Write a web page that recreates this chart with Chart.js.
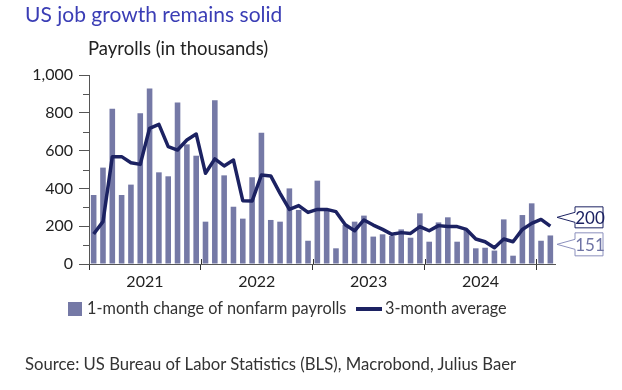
<!DOCTYPE html>
<html><head><meta charset="utf-8">
<script src="https://cdn.jsdelivr.net/npm/chart.js@4"></script>
<style>
html,body{margin:0;padding:0;background:#fff;}
#wrap{position:relative;width:622px;height:390px;overflow:hidden;font-family:Lato,sans-serif;}
canvas{position:absolute;left:0;top:0;}
.t{position:absolute;white-space:nowrap;line-height:1;}
</style></head><body>
<div id="wrap">
<canvas id="c" width="622" height="390"></canvas>
<div class="t" style="left:25px;top:3px;font-size:21px;color:#3a3db5;">US job growth remains solid</div>
<div class="t" style="left:88px;top:39px;font-size:18.5px;color:#222;">Payrolls (in thousands)</div>
<div style="position:absolute;left:68px;top:302px;width:14px;height:14px;background:#7579a6;"></div>
<div class="t" style="left:87px;top:300px;font-size:16.3px;color:#333;">1-month change of nonfarm payrolls</div>
<div style="position:absolute;left:356px;top:307px;width:26px;height:4px;background:#1c2262;"></div>
<div class="t" style="left:385px;top:300px;font-size:16.3px;color:#333;">3-month average</div>
<div class="t" style="left:25px;top:356px;font-size:16.7px;color:#333;">Source: US Bureau of Labor Statistics (BLS), Macrobond, Julius Baer</div>
</div>
<script>
const months = [
 'Jan 2021','Feb 2021','Mar 2021','Apr 2021','May 2021','Jun 2021','Jul 2021','Aug 2021','Sep 2021','Oct 2021','Nov 2021','Dec 2021',
 'Jan 2022','Feb 2022','Mar 2022','Apr 2022','May 2022','Jun 2022','Jul 2022','Aug 2022','Sep 2022','Oct 2022','Nov 2022','Dec 2022',
 'Jan 2023','Feb 2023','Mar 2023','Apr 2023','May 2023','Jun 2023','Jul 2023','Aug 2023','Sep 2023','Oct 2023','Nov 2023','Dec 2023',
 'Jan 2024','Feb 2024','Mar 2024','Apr 2024','May 2024','Jun 2024','Jul 2024','Aug 2024','Sep 2024','Oct 2024','Nov 2024','Dec 2024',
 'Jan 2025','Feb 2025'];
const monthlyChange = [
 365,510,822,365,420,797,928,485,464,855,633,573,
 224,866,469,303,240,459,695,233,224,400,286,123,
 441,286,83,206,224,256,145,157,148,183,139,268,
 118,220,247,118,180,83,86,71,236,44,259,321,
 123,151];
const threeMonthAvg = [
 159,224,568,568,536,527,718,739,621,603,656,688,
 480,556,519,550,335,333,471,466,374,289,309,273,
 289,289,277,208,176,233,206,183,157,166,162,198,
 176,203,198,198,183,132,118,86,132,118,183,215,
 236,200];
const yearLabels = ['2021','2022','2023','2024'];
const yTickValues = [0,200,400,600,800,1000];

const BAR = '#7579a6', LINE = '#1c2262';

const minorTicks = {
  id:'minorTicks',
  afterDraw(chart){
    const y = chart.scales.y, x = chart.scales.x, ctx = chart.ctx;
    ctx.save(); ctx.strokeStyle='#555'; ctx.lineWidth=1;
    for(let i=0;i<yTickValues.length-1;i++){
      const v=(yTickValues[i]+yTickValues[i+1])/2;
      const py=Math.round(y.getPixelForValue(v))+0.5;
      ctx.beginPath(); ctx.moveTo(y.right-6,py); ctx.lineTo(y.right,py); ctx.stroke();
    }
    // year boundary marks poke slightly above the baseline
    ctx.strokeStyle='#333';
    const base=chart.chartArea.bottom;
    for(let i=12;i<months.length;i+=12){
      const px=Math.round((x.getPixelForValue(i-1)+x.getPixelForValue(i))/2)+0.5;
      ctx.beginPath(); ctx.moveTo(px,base-5); ctx.lineTo(px,base); ctx.stroke();
    }
    ctx.restore();
  }
};

const callouts = {
  id:'callouts',
  afterDraw(chart){
    const y=chart.scales.y, ctx=chart.ctx, area=chart.chartArea;
    const items=[
      {v:threeMonthAvg[threeMonthAvg.length-1], stroke:LINE, text:LINE, fill:'#fff'},
      {v:monthlyChange[monthlyChange.length-1], stroke:'#8b90bd', text:'#6f74a5', fill:'#fff'}
    ];
    items.forEach(it=>it.py=y.getPixelForValue(it.v));
    items.sort((a,b)=>a.py-b.py);
    const sep=25, mid=(items[0].py+items[1].py)/2;
    items[0].cy=mid-sep/2-1; items[1].cy=mid+sep/2+1;
    ctx.save();
    ctx.font='17px Lato';
    items.forEach((it,k)=>{
      const tip=area.right+2, bl=area.right+20, br=area.right+48;
      const h= k===0?21:23, top=it.cy-h/2, bot=it.cy+h/2;
      ctx.beginPath();
      ctx.moveTo(bl,top); ctx.lineTo(br,top); ctx.lineTo(br,bot); ctx.lineTo(bl,bot);
      ctx.lineTo(bl,it.cy+5); ctx.lineTo(tip,it.cy); ctx.lineTo(bl,it.cy-5); ctx.closePath();
      ctx.fillStyle=it.fill; ctx.fill();
      ctx.strokeStyle=it.stroke; ctx.lineWidth=1; ctx.stroke();
      ctx.fillStyle=it.text; ctx.textAlign='center'; ctx.textBaseline='middle';
      ctx.fillText(String(it.v),(bl+br)/2+1,it.cy+1);
    });
    ctx.restore();
  }
};

new Chart(document.getElementById('c'),{
  data:{
    labels:months,
    datasets:[
      {type:'line',label:'3-month average',data:threeMonthAvg,borderColor:LINE,borderWidth:3.5,pointRadius:0,tension:0,order:0,borderJoinStyle:'round'},
      {type:'bar',label:'1-month change of nonfarm payrolls',data:monthlyChange,backgroundColor:BAR,barPercentage:0.6,categoryPercentage:1,order:1}
    ]
  },
  options:{
    responsive:false,animation:false,devicePixelRatio:1,
    layout:{padding:{left:0,top:75,right:67,bottom:96}},
    plugins:{legend:{display:false},tooltip:{enabled:false}},
    scales:{
      x:{
        type:'category',offset:true,
        afterFit(s){s.height=30;},
        border:{display:true,color:'#555',width:1},
        grid:{offset:true,drawOnChartArea:false,tickLength:6,
          color:(c)=> (c.index%12===0)?'#333':'rgba(0,0,0,0)'},
        ticks:{autoSkip:false,maxRotation:0,minRotation:0,padding:2,labelOffset:-4.66,
          color:'#222',font:{family:'Lato',size:16},
          callback:(v,i)=> (i%12===6 && yearLabels[Math.floor(i/12)]) ? yearLabels[Math.floor(i/12)] : ''}
      },
      y:{
        min:0,max:1000,
        afterFit(s){s.width=89;},
        afterBuildTicks(s){s.ticks=yTickValues.map(v=>({value:v}));},
        border:{display:true,color:'#555',width:1},
        grid:{drawOnChartArea:false,tickLength:10,color:'#555'},
        ticks:{padding:6,color:'#222',font:{family:'Lato',size:16},
          callback:(v)=>Number(v).toLocaleString('en-US')}
      }
    }
  },
  plugins:[minorTicks,callouts]
});
</script>
</body></html>
